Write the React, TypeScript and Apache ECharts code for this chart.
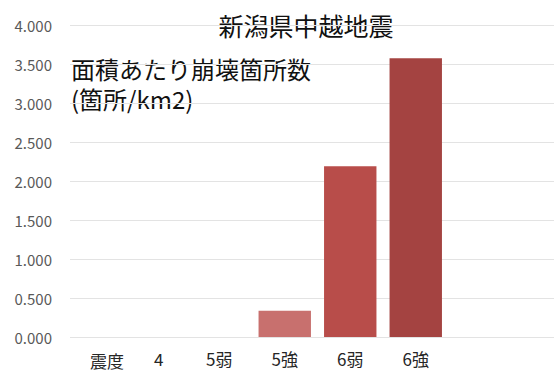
import React, { useEffect, useRef } from "react";
import * as echarts from "echarts";

// 震度別の面積あたり崩壊箇所数
const categories = ["4", "5弱", "5強", "6弱", "6強"];
const values = [0, 0, 0.335, 2.19, 3.575];
const barColors = ["#C8706E", "#C8706E", "#C8706E", "#B84D4A", "#A44341"];
const yTicks = { min: 0, max: 4, interval: 0.5 };

const titleText = "新潟県中越地震";
const unitText = "面積あたり崩壊箇所数\n(箇所/km2)";
const axisPrefix = "震度";

const FONT = "'Noto Sans CJK JP', 'Noto Sans', sans-serif";

export default function App() {
  const ref = useRef<HTMLDivElement>(null);

  useEffect(() => {
    if (!ref.current) return;
    const chart = echarts.init(ref.current, undefined, { renderer: "svg" });
    chart.setOption({
      animation: false,
      backgroundColor: "#ffffff",
      grid: [
        { left: 70, right: 0, top: 25, bottom: 34 },
        { left: 121, right: 105.5, top: 25, bottom: 34 },
      ],
      xAxis: [
        { gridIndex: 0, type: "value", min: 0, max: 1, show: false },
        {
          gridIndex: 1,
          type: "category",
          data: categories,
          axisLine: { show: false },
          axisTick: { show: false },
          axisLabel: {
            interval: 0,
            color: "#262626",
            fontSize: 17,
            fontFamily: FONT,
            margin: 13,
            formatter: (v: string) => (v === "4" ? `{shift|${v}}` : v),
            rich: {
              shift: {
                fontSize: 17,
                fontFamily: FONT,
                color: "#262626",
                padding: [0, 0, 0, 10],
              },
            },
          },
        },
      ],
      yAxis: [
        {
          gridIndex: 0,
          type: "value",
          min: yTicks.min,
          max: yTicks.max,
          interval: yTicks.interval,
          axisLine: { show: false },
          axisTick: { show: false },
          axisLabel: {
            color: "#595959",
            fontSize: 15,
            fontFamily: FONT,
            margin: 18,
            formatter: (v: number) => v.toFixed(3),
          },
          splitLine: { lineStyle: { color: "#E3E3E3", width: 1 } },
        },
        {
          gridIndex: 1,
          type: "value",
          min: yTicks.min,
          max: yTicks.max,
          interval: yTicks.interval,
          show: false,
          splitLine: { show: false },
        },
      ],
      series: [
        {
          type: "bar",
          xAxisIndex: 1,
          yAxisIndex: 1,
          barCategoryGap: "20%",
          data: values.map((v, i) => ({
            value: v,
            itemStyle: { color: barColors[i] },
          })),
        },
      ],
      graphic: [
        {
          type: "text",
          x: 306,
          y: 25,
          style: {
            text: titleText,
            fontSize: 25,
            fontFamily: FONT,
            fill: "#111111",
            align: "center",
            verticalAlign: "middle",
          },
        },
        {
          type: "text",
          x: 71,
          y: 53,
          style: {
            text: unitText,
            fontSize: 24,
            lineHeight: 30,
            fontFamily: FONT,
            fill: "#111111",
            align: "left",
            verticalAlign: "top",
          },
        },
        {
          type: "text",
          x: 107,
          y: 360,
          style: {
            text: axisPrefix,
            fontSize: 17,
            fontFamily: FONT,
            fill: "#262626",
            align: "center",
            verticalAlign: "middle",
          },
        },
      ],
    });
    return () => chart.dispose();
  }, []);

  return (
    <div
      ref={ref}
      style={{ position: "fixed", left: 0, top: 0, width: 554, height: 371 }}
    />
  );
}
